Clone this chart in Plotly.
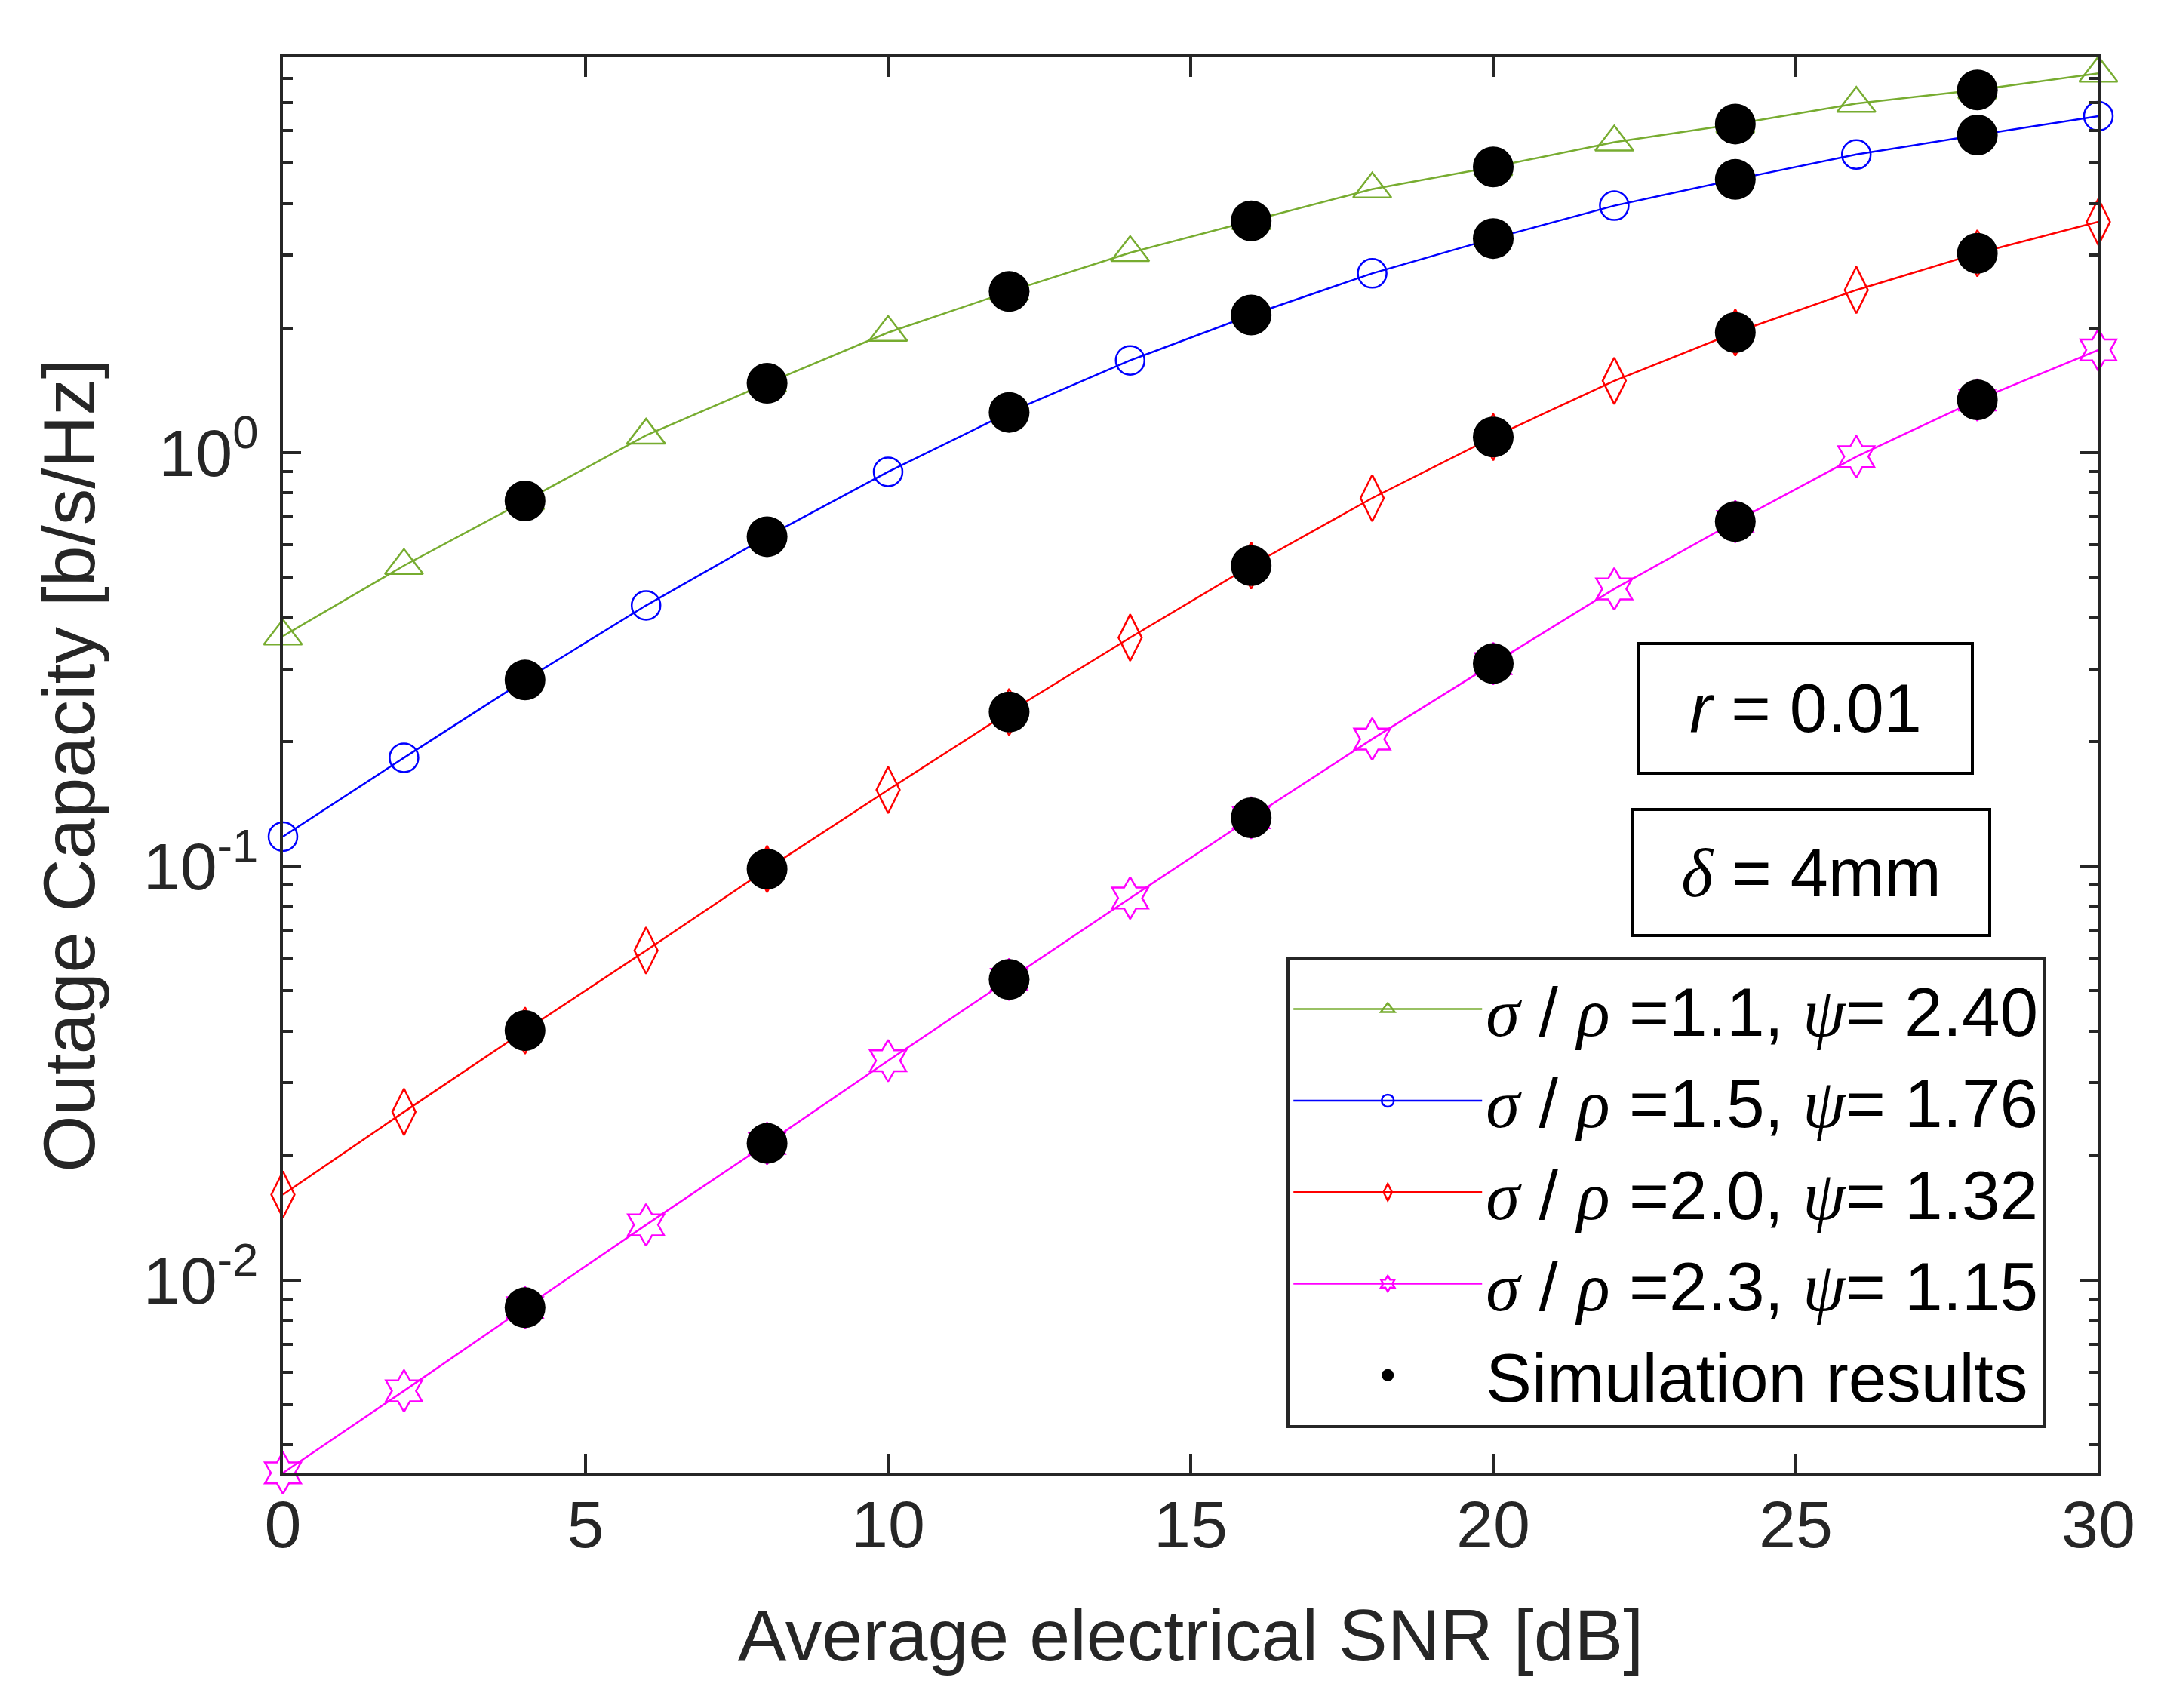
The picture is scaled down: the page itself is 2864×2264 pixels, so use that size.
import plotly.graph_objects as go

# average electrical SNR [dB]
snr = [0, 2, 4, 6, 8, 10, 12, 14, 16, 18, 20, 22, 24, 26, 28, 30]
snr_sim = [4, 8, 12, 16, 20, 24, 28]

# analytical outage capacity [b/s/Hz]
cap_11 = [0.360, 0.533, 0.764, 1.10, 1.47, 1.95, 2.45, 3.04, 3.63, 4.33, 4.90, 5.62, 6.22, 6.97, 7.52, 8.25]
cap_15 = [0.118, 0.183, 0.282, 0.427, 0.626, 0.898, 1.25, 1.67, 2.15, 2.71, 3.29, 3.95, 4.57, 5.25, 5.85, 6.50]
cap_20 = [0.0161, 0.0255, 0.0401, 0.0626, 0.0985, 0.153, 0.236, 0.357, 0.533, 0.776, 1.09, 1.49, 1.95, 2.47, 3.03, 3.61]
cap_23 = [0.00342, 0.0054, 0.00858, 0.0136, 0.0214, 0.0339, 0.0533, 0.0838, 0.131, 0.203, 0.309, 0.468, 0.681, 0.977, 1.34, 1.77]

# simulation results
sim_11 = [0.764, 1.47, 2.45, 3.63, 4.90, 6.22, 7.52]
sim_15 = [0.282, 0.626, 1.25, 2.15, 3.29, 4.57, 5.85]
sim_20 = [0.0401, 0.0985, 0.236, 0.533, 1.09, 1.95, 3.03]
sim_23 = [0.00858, 0.0214, 0.0533, 0.131, 0.309, 0.681, 1.34]

y_tickvals = [0.01, 0.1, 1]
y_ticktext = ['10<sup>-2</sup>', '10<sup>-1</sup>', '10<sup>0</sup>']
x_tickvals = [0, 5, 10, 15, 20, 25, 30]

AX = '#262626'
GREEK = "<span style=\"font-family:'Liberation Serif'\"><i>%s</i></span>"


def label(ratio, psi):
    return (GREEK % 'σ') + ' / ' + (GREEK % 'ρ') + ' =' + ratio + ', ' + (GREEK % 'ψ') + '= ' + psi


series = [
    (cap_11, sim_11, '#77AC30', 'triangle-up-open', 44, label('1.1', '2.40')),
    (cap_15, sim_15, '#0000FF', 'circle-open', 38, label('1.5', '1.76')),
    (cap_20, sim_20, '#FF0000', 'diamond-tall-open', 44, label('2.0', '1.32')),
    (cap_23, sim_23, '#FF00FF', 'hexagram-open', 42, label('2.3', '1.15')),
]

fig = go.Figure()

# analytical curves
for cap, sim, color, symbol, size, name in series:
    fig.add_trace(go.Scatter(
        x=snr, y=cap, mode='lines+markers', name=name,
        line=dict(color=color, width=2.5),
        marker=dict(symbol=symbol, size=size, color=color, line=dict(color=color, width=2.5)),
        cliponaxis=False,
    ))

# simulation dots, one legend entry for all of them
for i, (cap, sim, color, symbol, size, name) in enumerate(series):
    fig.add_trace(go.Scatter(
        x=snr_sim, y=sim, mode='markers', name='Simulation results',
        legendgroup='sim', showlegend=(i == 0),
        marker=dict(symbol='circle', size=54, color='black'),
        cliponaxis=False,
    ))

axis_common = dict(
    showline=True, linecolor=AX, linewidth=4, mirror='allticks',
    ticks='inside', tickcolor=AX, tickwidth=4,
    showgrid=False, zeroline=False,
    tickfont=dict(family='Liberation Sans, Arial', size=88, color=AX),
)

fig.update_xaxes(
    range=[0, 30], tickvals=x_tickvals, ticklen=26, ticklabelstandoff=-12,
    title=dict(text='Average electrical SNR [dB]', standoff=65,
               font=dict(family='Liberation Sans, Arial', size=97, color=AX)),
    **axis_common,
)
fig.update_yaxes(
    type='log', range=[-2.467, 0.955], tickvals=y_tickvals, ticktext=y_ticktext,
    ticklen=24, ticklabelstandoff=11,
    minor=dict(dtick='D1', ticks='inside', ticklen=13, tickwidth=4, tickcolor=AX, showgrid=False),
    title=dict(text='Outage Capacity [b/s/Hz]', standoff=33,
               font=dict(family='Liberation Sans, Arial', size=97, color=AX)),
    **axis_common,
)

box_font = dict(family='Liberation Sans, Arial', size=90, color='black')
fig.add_annotation(
    xref='paper', yref='paper', x=0.8387, y=0.5402, xanchor='center', yanchor='middle',
    text='<i>r</i> = 0.01', showarrow=False, font=box_font,
    width=438, height=168, borderpad=0, bordercolor='black', borderwidth=4, bgcolor='white',
)
fig.add_annotation(
    xref='paper', yref='paper', x=0.8417, y=0.4243, xanchor='center', yanchor='middle',
    text=(GREEK % 'δ') + ' = 4mm', showarrow=False, font=box_font,
    width=469, height=163, borderpad=0, bordercolor='black', borderwidth=4, bgcolor='white',
)

fig.update_layout(
    width=2864, height=2264,
    margin=dict(l=367, r=91, t=68, b=319),
    plot_bgcolor='white', paper_bgcolor='white',
    legend=dict(
        x=0.971, y=0.032, xanchor='right', yanchor='bottom',
        bgcolor='white', bordercolor=AX, borderwidth=4,
        itemwidth=250, tracegroupgap=0,
        font=dict(family='Liberation Sans, Arial', size=91, color='black'),
    ),
)

fig.write_html('out.html')
